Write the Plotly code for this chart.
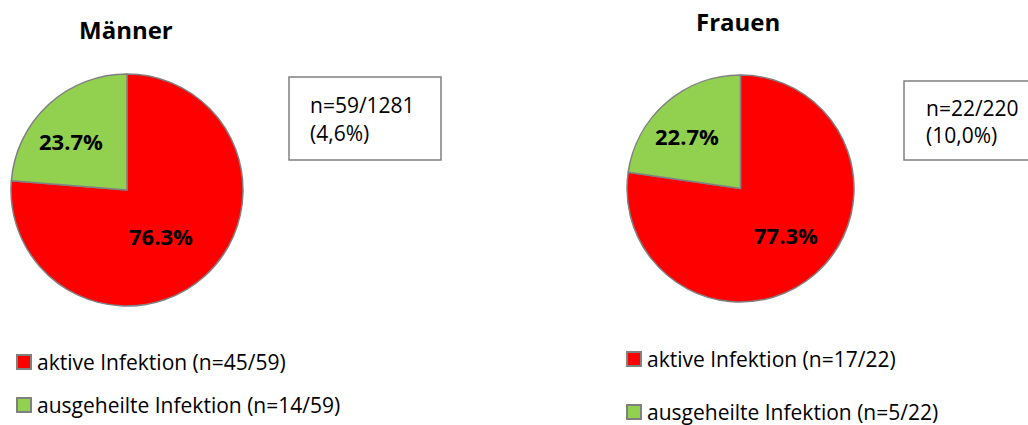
import plotly.graph_objects as go

# Daten
gruppen = ["Männer", "Frauen"]
kategorien = ["aktive Infektion", "ausgeheilte Infektion"]
aktiv = [45, 17]
ausgeheilt = [14, 5]
gesamt = [1281, 220]

farben = ["#FF0000", "#92D050"]
rand = "#808080"
W, H = 1028, 425
FONT = "Open Sans"


def px(x):
    return x / W


def py(y):
    return 1 - y / H


# Layout-Positionen in Pixeln
pie_boxes = [(11, 243, 74, 306), (627, 854, 75, 302)]
titel_pos = [(126, 29), (738, 21)]
pct_pos = [[(161, 236), (71, 141)], [(786, 235), (687, 136)]]
info_box = [(289, 441, 77, 160), (904, 1040, 81, 160)]
info_text = [(308, 105, 133), (924, 108, 135)]
legende = [[(17, 362), (17, 405)], [(627, 359), (627, 412)]]

fig = go.Figure()
annotations = []
shapes = []

for i, g in enumerate(gruppen):
    werte = [aktiv[i], ausgeheilt[i]]
    n = sum(werte)
    x0, x1, y0, y1 = pie_boxes[i]
    fig.add_trace(go.Pie(
        labels=kategorien, values=werte, sort=False, direction="clockwise",
        rotation=0, marker=dict(colors=farben, line=dict(color=rand, width=1.5)),
        textinfo="none", hoverinfo="label+value+percent", showlegend=False,
        domain=dict(x=[px(x0), px(x1)], y=[py(y1), py(y0)]),
    ))

    # Titel
    tx, ty = titel_pos[i]
    annotations.append(dict(x=px(tx), y=py(ty), xref="paper", yref="paper",
                            text=f"<b>{g}</b>", showarrow=False,
                            font=dict(family=FONT, size=24, color="black"),
                            xanchor="center", yanchor="middle"))

    # Prozentwerte in den Segmenten
    for k, v in enumerate(werte):
        lx, ly = pct_pos[i][k]
        annotations.append(dict(x=px(lx), y=py(ly), xref="paper", yref="paper",
                                text=f"<b>{100 * v / n:.1f}%</b>", showarrow=False,
                                font=dict(family=FONT, size=22, color="black"),
                                xanchor="center", yanchor="middle"))

    # Info-Kasten
    bx0, bx1, by0, by1 = info_box[i]
    shapes.append(dict(type="rect", xref="paper", yref="paper",
                       x0=px(bx0), x1=px(bx1), y0=py(by1), y1=py(by0),
                       line=dict(color=rand, width=1.5), fillcolor="white"))
    ix, iy1, iy2 = info_text[i]
    anteil = f"{100 * n / gesamt[i]:.1f}".replace(".", ",")
    for txt, yy in [(f"n={n}/{gesamt[i]}", iy1), (f"({anteil}%)", iy2)]:
        annotations.append(dict(x=px(ix), y=py(yy), xref="paper", yref="paper",
                                text=txt, showarrow=False,
                                font=dict(family=FONT, size=21, color="black"),
                                xanchor="left", yanchor="middle"))

    # Legende
    for k, v in enumerate(werte):
        lx, ly = legende[i][k]
        shapes.append(dict(type="rect", xref="paper", yref="paper",
                           x0=px(lx), x1=px(lx + 14), y0=py(ly + 7), y1=py(ly - 7),
                           line=dict(color=rand, width=2), fillcolor=farben[k]))
        annotations.append(dict(x=px(lx + 18), y=py(ly), xref="paper", yref="paper",
                                text=f"{kategorien[k]} (n={v}/{n})", showarrow=False,
                                font=dict(family=FONT, size=21, color="black"),
                                xanchor="left", yanchor="middle"))

fig.update_layout(
    width=W, height=H, margin=dict(l=0, r=0, t=0, b=0),
    paper_bgcolor="white", plot_bgcolor="white",
    annotations=annotations, shapes=shapes,
)

fig.write_html("out.html")
